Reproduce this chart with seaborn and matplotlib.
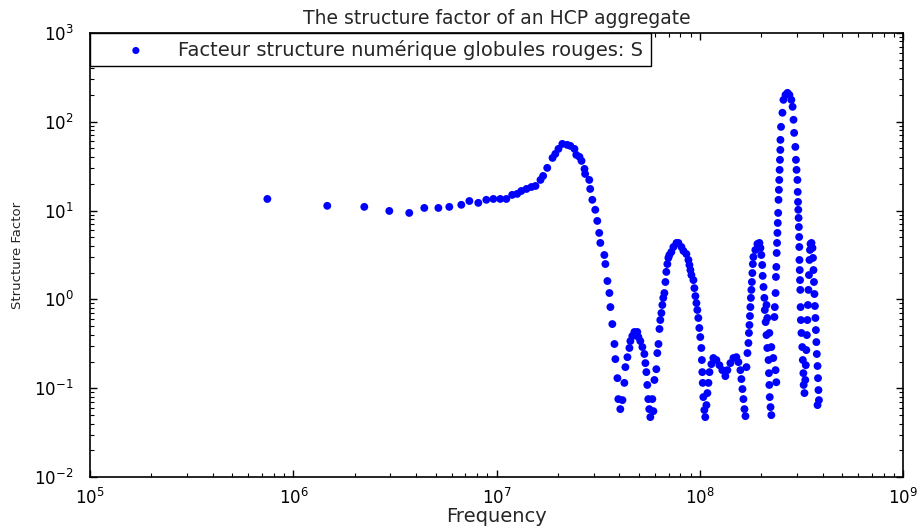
import numpy as np
import pandas as pd
import seaborn as sns
import matplotlib.pyplot as plt
from matplotlib.ticker import LogLocator, NullFormatter

# frequency (MHz) and structure factor
freq_mhz = [
    0.744, 1.466, 2.23, 2.96, 3.71, 4.40, 5.16, 5.84, 6.69, 7.33, 8.11, 8.88, 9.62,
    10.4, 11.14, 11.9, 12.6, 13.2, 14.0, 14.8, 15.5, 16.4, 16.9, 17.7, 18.8, 19.4,
    20.1, 21.0, 22.2, 23.0, 24.1, 24.6, 25.5, 26.1, 27.0, 27.2, 28.5, 28.8, 29.5,
    30.5, 31.2, 31.9, 32.3, 33.8, 34.2, 35.0, 35.8, 36.2, 37.0, 37.9, 38.3, 39.2,
    39.6, 40.5, 41.5,
    # first small bump
    42.4, 42.9, 43.9, 44.9, 45.4, 46.4, 47.5, 49.1, 49.7, 50.8, 52.0, 53.2, 53.8,
    54.4, 55.0, 55.6, 56.2, 56.9, 58.2, 58.9,
    # second peak
    59.6, 60.9, 61.6, 62.4, 63.1, 63.7, 64.5, 65.2, 65.9, 66.7, 67.5, 68.2, 69.0,
    69.8, 70.6, 72.2, 73.9, 76.5, 78.2, 80.9, 82.8, 85.6, 87.6, 88.6, 89.6, 90.6,
    92.7, 93.7, 94.8, 95.9, 96.9, 98.0, 99.1, 100.2, 101.4, 102.0, 102.5, 103.0,
    103.7, 104.9, 106.0,
    # double bump around 0.2
    107.4, 108.6, 109.9, 111.2, 113.6, 116.2, 120.2, 124.4, 128.6, 133.1, 136.2,
    140.9, 145.8, 150.8, 154.3, 157.8, 159.6, 161.5, 163.3, 165.2, 167.1,
    # third peak
    169.0, 170.9, 172.8, 173.8, 174.8, 175.8, 176.7, 177.7, 178.7, 179.7, 180.7,
    181.7, 182.8, 186.9, 191.3, 195.8, 198.0, 200.0, 202.0, 203.0, 205.0, 207.0,
    208.0, 210.0, 212.0, 214.0, 217.0, 218.0, 219.0, 220.0, 222.0, 224.0,
    212.0, 214.0, 219.0, 224.0, 229.0, 235.0, 237.0,
    # main peak
    232.0, 233.0, 235.0, 236.0, 237.0, 238.0, 239.0, 240.0, 241.0, 242.0, 243.0,
    244.0, 245.0, 246.0, 247.0, 248.0, 248.3, 250.0, 254.0, 257.0, 263.0, 269.0,
    275.0, 281.0, 285.0, 288.0, 290.0, 294.0, 296.0, 298.0, 301.0, 302.0, 303.0,
    304.0, 305.0, 306.0, 307.0, 307.5, 308.0, 309.0, 310.0, 311.0, 312.0, 313.0,
    315.0, 318.0, 320.0, 322.0, 323.0, 326.0,
    # last peak
    329.0, 331.0, 333.0, 335.0, 337.0, 339.0, 341.0, 343.0, 345.0, 347.0, 349.0,
    353.0, 357.0, 359.0, 361.0, 363.0, 365.0, 367.0, 369.0, 371.0, 373.0, 375.0,
    378.0, 380.0, 382.0, 384.0, 378.0,
]

s_factor = [
    13.5, 11.3, 11.0, 9.9, 9.4, 10.7, 10.7, 11.0, 11.6, 12.8, 12.2, 13.2, 13.5,
    13.5, 13.5, 15.0, 15.4, 16.6, 17.5, 18.4, 18.9, 22.1, 24.5, 30.2, 39.1, 43.4,
    49.4, 56.2, 54.8, 53.4, 49.4, 42.3, 40.2, 36.2, 29.4, 25.8, 22.1, 17.5, 13.2,
    10.2, 7.64, 5.60, 4.32, 3.16, 2.50, 1.61, 1.18, 0.82, 0.528, 0.315, 0.213, 0.130,
    0.0756, 0.0583, 0.0736,
    0.115, 0.173, 0.224, 0.284, 0.340, 0.387, 0.430, 0.430, 0.377, 0.340, 0.291,
    0.243, 0.192, 0.152, 0.109, 0.0756, 0.0583, 0.0474, 0.0756, 0.0553,
    0.124, 0.164, 0.249, 0.315, 0.465, 0.586, 0.703, 0.865, 1.04, 1.18, 1.57, 2.04,
    2.50, 2.93, 3.16, 3.42, 3.89, 4.32, 4.32, 3.89, 3.51, 3.24, 2.78, 2.44, 2.14,
    1.88, 1.65, 1.34, 1.09, 0.910, 0.760, 0.618, 0.477, 0.377, 0.284, 0.208, 0.152,
    0.115, 0.0796, 0.0569, 0.0474,
    0.0647, 0.0883, 0.115, 0.152, 0.187, 0.219, 0.208, 0.182, 0.160, 0.137, 0.160,
    0.192, 0.219, 0.224, 0.197, 0.160, 0.127, 0.098, 0.0756, 0.0583, 0.0486,
    0.173, 0.249, 0.323, 0.419, 0.515, 0.650, 0.820, 1.04, 1.28, 1.57, 1.98, 2.50,
    3.00, 3.60, 4.21, 4.32, 3.79, 3.16, 2.44, 1.84, 1.38, 1.04, 0.760, 0.556,
    0.397, 0.284, 0.208, 0.148, 0.109, 0.0796, 0.0614, 0.0499,
    0.865, 0.618, 0.419, 0.291, 0.219, 0.160, 0.117,
    0.634, 0.820, 1.18, 1.79, 2.32, 3.33, 4.32, 5.60, 7.25, 9.40, 13.2, 17.1, 22.1,
    28.7, 37.2, 48.1, 62.4, 87.4, 126.0, 176.0, 200.0, 211.0, 200.0, 176.0, 147.0,
    105.0, 74.8, 52.0, 37.2, 28.7, 22.1, 16.2, 12.5, 10.2, 8.26, 6.53, 5.04, 3.89,
    2.78, 2.14, 1.65, 1.28, 0.820, 0.586, 0.419, 0.291, 0.208, 0.148, 0.109, 0.0883,
    0.124, 0.182, 0.269, 0.397, 0.586, 0.865, 1.28, 1.88, 2.78, 3.60, 4.21, 4.32,
    3.79, 2.93, 2.14, 1.57, 1.15, 0.843, 0.618, 0.452, 0.331, 0.243, 0.178, 0.130,
    0.0955, 0.0736, 0.0647,
]

df = pd.DataFrame({"Frequency": np.array(freq_mhz) * 1e6, "S": s_factor})

# matlab-like ticks: inside, on all four sides
sns.set_style("ticks", {
    "xtick.direction": "in", "ytick.direction": "in",
    "xtick.top": True, "ytick.right": True,
    "xtick.bottom": True, "ytick.left": True,
    "xtick.color": "black", "ytick.color": "black",
    "axes.edgecolor": "black",
})
# the original text is wide, DejaVu Sans comes closer than Arial
plt.rcParams['font.family'] = ['DejaVu Sans']
plt.rcParams['mathtext.default'] = 'regular'

fig = plt.figure(figsize=(9.2, 5.29), dpi=100)
ax = fig.add_axes([0.098, 0.098, 0.884, 0.84])

sns.scatterplot(data=df, x="Frequency", y="S", ax=ax, color="#0000ff",
                edgecolor="none", s=32, linewidth=0, zorder=2,
                label="Facteur structure numérique globules rouges: S")

ax.set_xscale("log")
ax.set_yscale("log")
ax.set_xlim(1e5, 1e9)
ax.set_ylim(1e-2, 1e3)
ax.xaxis.set_major_locator(LogLocator(base=10, numticks=10))
ax.xaxis.set_minor_locator(LogLocator(base=10, subs=np.arange(2, 10), numticks=50))
ax.xaxis.set_minor_formatter(NullFormatter())
ax.yaxis.set_major_locator(LogLocator(base=10, numticks=10))
ax.yaxis.set_minor_locator(LogLocator(base=10, subs=np.arange(2, 10), numticks=50))
ax.yaxis.set_minor_formatter(NullFormatter())

ax.set_title("The structure factor of an HCP aggregate", fontsize=13.5, pad=6)
ax.set_xlabel("Frequency", fontsize=14, labelpad=-1)
ax.set_ylabel("Structure Factor", fontsize=9.5, labelpad=7)

ax.tick_params(which="both", direction="in", bottom=True, left=True,
               top=True, right=True, labelsize=12, color="black", zorder=5)
ax.tick_params(axis="x", which="major", pad=8)
ax.tick_params(axis="y", which="major", pad=12)
ax.tick_params(which="major", length=5, width=1.0)
ax.tick_params(which="minor", length=3, width=0.8)
for sp in ax.spines.values():
    sp.set_color("black")
    sp.set_linewidth(1.2)

leg = ax.legend(loc="upper left", bbox_to_anchor=(0, 0.928, 0.689, 0.072),
                mode="expand", borderaxespad=0, fontsize=14, fancybox=False,
                framealpha=1, edgecolor="black", handlelength=4.0,
                handletextpad=0.15, borderpad=0.35, markerscale=0.9)
leg.get_frame().set_linewidth(1.0)

plt.savefig("out.png", dpi=100)
